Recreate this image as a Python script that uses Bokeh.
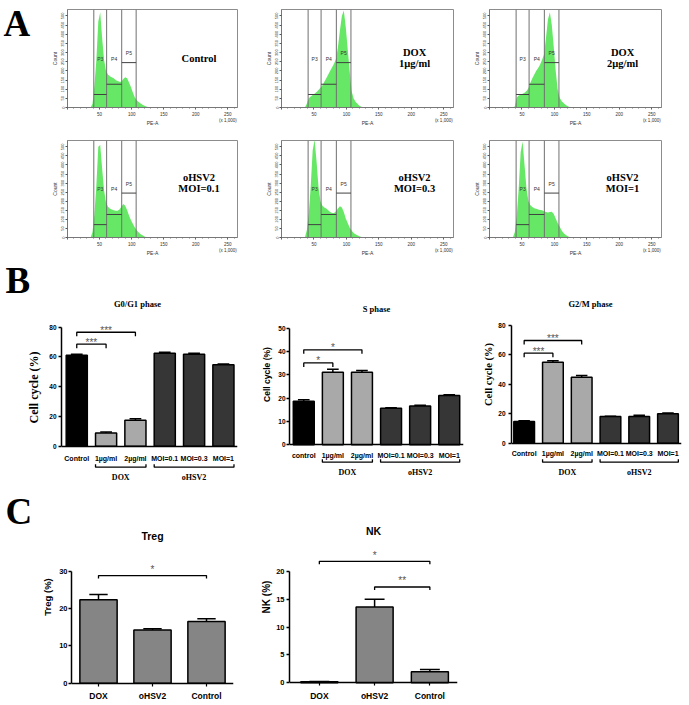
import math
from bokeh.plotting import figure
from bokeh.layouts import column, row
from bokeh.models import Range1d, FixedTicker, SingleIntervalTicker, Spacer
from bokeh.core.properties import value
from bokeh.embed import file_html
from bokeh.resources import INLINE

SANS = "Liberation Sans"
SERIF = "Liberation Serif"

# ---------------- Panel A: DNA-content histograms (count vs PE-A x1000) ----------------
HIST_X = [36, 39, 42, 45, 48, 51, 54, 57, 60, 63, 66, 69, 72, 75, 78, 81,
          84, 87, 90, 93, 96, 99, 102, 105, 108, 111, 114, 117, 120, 123, 126, 129]
COUNT_CONTROL = [0, 20, 120, 260, 470, 520, 380, 260, 200, 180, 170, 165, 160, 150, 145, 140,
                 140, 155, 165, 160, 135, 110, 80, 55, 40, 30, 22, 15, 10, 5, 2, 0]
COUNT_DOX1 = [0, 20, 50, 60, 68, 75, 85, 95, 108, 120, 140, 160, 180, 200, 220, 240,
              265, 330, 420, 500, 530, 440, 320, 200, 90, 50, 32, 20, 10, 4, 0, 0]
COUNT_DOX2 = [0, 5, 55, 65, 70, 75, 80, 90, 105, 135, 160, 180, 200, 215, 235, 260,
              290, 380, 480, 520, 450, 330, 200, 100, 55, 35, 25, 15, 8, 3, 0, 0]
COUNT_MOI01 = [0, 30, 130, 290, 500, 510, 380, 260, 195, 170, 160, 155, 150, 148, 148, 155,
               170, 185, 175, 150, 120, 95, 75, 55, 40, 28, 18, 12, 6, 2, 0, 0]
COUNT_MOI03 = [0, 40, 130, 280, 480, 540, 420, 280, 200, 175, 165, 160, 150, 140, 135, 135,
               145, 160, 172, 165, 140, 105, 80, 55, 38, 25, 18, 12, 7, 3, 0, 0]
COUNT_MOI1 = [0, 30, 120, 270, 470, 530, 400, 270, 200, 178, 168, 162, 158, 155, 152, 150,
              145, 140, 138, 140, 142, 130, 105, 80, 60, 40, 25, 15, 8, 3, 0, 0]
GATE_EDGES = [41, 61, 84.5, 107]
GATE_MARKS = [71, 127, 245]
GATE_NAMES = ["P3", "P4", "P5"]
SAMPLE_LABELS = ["Control", "DOX\n1µg/ml", "DOX\n2µg/ml",
                 "oHSV2\nMOI=0.1", "oHSV2\nMOI=0.3", "oHSV2\nMOI=1"]

# ---------------- Panel B: cell-cycle phases (%) ----------------
CC_CATS = ["Control", "1µg/ml", "2µg/ml", "MOI=0.1", "MOI=0.3", "MOI=1"]
S_CATS = ["control", "1µg/ml", "2µg/ml", "MOI=0.1", "MOI=0.3", "MOI=1"]
CC_GROUP = ["control", "DOX", "DOX", "oHSV2", "oHSV2", "oHSV2"]
G1_MEAN = [61.1, 8.9, 17.5, 62.5, 61.8, 54.8]
G1_SEM = [0.7, 0.6, 0.9, 0.7, 0.7, 0.4]
S_MEAN = [18.7, 31.1, 31.1, 15.7, 16.6, 21.1]
S_SEM = [0.6, 1.3, 0.8, 0.2, 0.4, 0.3]
G2_MEAN = [14.7, 55.1, 44.9, 18.1, 18.1, 20.0]
G2_SEM = [0.5, 0.9, 1.1, 0.3, 0.9, 0.6]
G1_SIG = [(0, 1, "***"), (0, 2, "***")]
S_SIG = [(0, 1, "*"), (0, 2, "*")]
G2_SIG = [(0, 1, "***"), (0, 2, "***")]

# ---------------- Panel C: immune cells (%) ----------------
C_CATS = ["DOX", "oHSV2", "Control"]
TREG_MEAN = [22.4, 14.3, 16.6]
TREG_SEM = [1.4, 0.3, 0.7]
NK_MEAN = [0.2, 13.6, 2.0]
NK_SEM = [0.05, 1.4, 0.4]
TREG_SIG = [(0, 2, "*")]
NK_SIG = [(0, 2, "*"), (1, 2, "**")]

GROUP_COLORS = {"control": "#000000", "DOX": "#a9a9a9", "oHSV2": "#363636"}
C_COLOR = "#858585"
GREEN = "#66e866"


def clean(p):
    p.outline_line_color = None
    p.grid.visible = False


def blank_fig(w, h):
    p = figure(width=w, height=h, x_range=Range1d(0, w), y_range=Range1d(0, h), title=None,
               x_axis_type=None, y_axis_type=None, output_backend="svg",
               toolbar_location=None, min_border=0, min_border_left=0, min_border_right=0,
               min_border_top=0, min_border_bottom=0)
    clean(p)
    return p


def add_letter(p, letter, x, y_center):
    p.text(x=[x], y=[y_center], text=[letter], text_font=value(SERIF), text_font_style="bold",
           text_font_size="37px", text_align="left", text_baseline="middle",
           text_color="black")


FW, FH = 172, 98
XMAX, YMAX = 265, 535


def hist_fig(counts, label, left, right, top, bottom, label_y):
    p = figure(width=left + FW + right, height=top + FH + bottom, title=None,
               x_range=Range1d(0, XMAX), y_range=Range1d(0, YMAX),
               output_backend="svg", toolbar_location=None,
               min_border_left=left, min_border_right=right,
               min_border_top=top, min_border_bottom=bottom)
    p.grid.visible = False
    p.outline_line_color = "#8c8c8c"
    p.varea(x=HIST_X, y1=0, y2=counts, fill_color=GREEN, fill_alpha=1)
    p.segment(x0=GATE_EDGES, y0=0, x1=GATE_EDGES, y1=YMAX, line_color="#707070", line_width=1)
    p.segment(x0=GATE_EDGES[:-1], y0=GATE_MARKS, x1=GATE_EDGES[1:], y1=GATE_MARKS,
              line_color="#404040", line_width=1)
    cx = [(a + b) / 2 for a, b in zip(GATE_EDGES[:-1], GATE_EDGES[1:])]
    p.text(x=cx, y=[267, 267, GATE_MARKS[2] + 50], text=GATE_NAMES, text_font=value(SANS),
           text_font_size="5px", text_align="center", text_baseline="middle", text_color="#333333")
    p.text(x=[205], y=[label_y], text=[label], text_font=value(SERIF), text_font_style="bold",
           text_font_size="10.5px", text_align="center", text_baseline="middle",
           text_line_height=1.0, text_color="black")
    xa = p.xaxis[0]
    xa.ticker = SingleIntervalTicker(interval=50, num_minor_ticks=5)
    xa.major_label_overrides = {0: "", 250: "250\n(x 1,000)"}
    xa.axis_label = "PE-A"
    xa.axis_label_text_font = SANS
    xa.axis_label_text_font_style = "normal"
    xa.axis_label_text_font_size = "5px"
    xa.axis_label_text_color = "#333333"
    xa.axis_label_standoff = -6
    xa.major_label_text_font = SANS
    xa.major_label_text_font_size = "4.5px"
    xa.major_label_text_color = "#333333"
    xa.major_label_standoff = 2
    xa.major_tick_out = 2
    xa.major_tick_in = 0
    xa.minor_tick_out = 1
    xa.minor_tick_in = 0
    xa.axis_line_color = "#777777"
    xa.major_tick_line_color = "#555555"
    xa.minor_tick_line_color = "#777777"
    ya = p.yaxis[0]
    ya.ticker = SingleIntervalTicker(interval=50, num_minor_ticks=0)
    ya.major_label_orientation = "vertical"
    ya.major_label_text_font = SANS
    ya.major_label_text_font_size = "4px"
    ya.major_label_text_color = "#333333"
    ya.major_label_standoff = 1
    ya.major_tick_out = 2
    ya.major_tick_in = 0
    ya.axis_line_color = "#777777"
    ya.major_tick_line_color = "#555555"
    ya.axis_label = "Count"
    ya.axis_label_text_font = SANS
    ya.axis_label_text_font_style = "normal"
    ya.axis_label_text_font_size = "5px"
    ya.axis_label_text_color = "#333333"
    ya.axis_label_standoff = 1
    return p


def bar_fig(cats, means, sems, colors, fw, left, right, fh, x_lo, x_hi, zero_top, ppu,
            yticks, ylab, ylab_font, ylab_size, ylab_standoff, ytick_size, ytick_standoff,
            xlab_size, xlab_standoff, xtick_out, bar_w, cap_w):
    lo = -(fh - zero_top) / ppu
    hi = zero_top / ppu
    p = figure(width=left + fw + right, height=fh, x_range=Range1d(x_lo, x_hi), title=None,
               y_range=Range1d(lo, hi), output_backend="svg", toolbar_location=None,
               min_border_left=left, min_border_right=right, min_border_top=0,
               min_border_bottom=0)
    clean(p)
    xs = list(range(len(cats)))
    tops = [m + s for m, s in zip(means, sems)]
    p.segment(x0=xs, y0=means, x1=xs, y1=tops, line_color="black", line_width=1.5)
    p.segment(x0=[x - cap_w / 2 for x in xs], y0=tops, x1=[x + cap_w / 2 for x in xs], y1=tops,
              line_color="black", line_width=1.5)
    p.vbar(x=xs, top=means, bottom=0, width=bar_w, fill_color=colors, line_color="black",
           line_width=1.5)
    xa = p.xaxis[0]
    xa.fixed_location = 0
    xa.ticker = FixedTicker(ticks=xs)
    xa.major_label_overrides = {i: c for i, c in enumerate(cats)}
    xa.axis_line_width = 1.5
    xa.major_tick_out = xtick_out
    xa.major_tick_in = 0
    xa.major_tick_line_width = 1.2
    xa.minor_tick_out = 0
    xa.minor_tick_in = 0
    xa.major_label_text_font = SANS
    xa.major_label_text_font_style = "bold"
    xa.major_label_text_font_size = xlab_size
    xa.major_label_text_color = "black"
    xa.major_label_standoff = xlab_standoff
    ya = p.yaxis[0]
    ya.ticker = FixedTicker(ticks=yticks)
    ya.bounds = (0, yticks[-1])
    ya.axis_line_width = 1.5
    ya.major_tick_out = 3
    ya.major_tick_in = 0
    ya.major_tick_line_width = 1.5
    ya.minor_tick_out = 0
    ya.minor_tick_in = 0
    ya.major_label_text_font = SANS
    ya.major_label_text_font_style = "bold"
    ya.major_label_text_font_size = ytick_size
    ya.major_label_text_color = "black"
    ya.major_label_standoff = ytick_standoff
    if ylab:
        ya.axis_label = ylab
        ya.axis_label_text_font = ylab_font
        ya.axis_label_text_font_style = "bold"
        ya.axis_label_text_font_size = ylab_size
        ya.axis_label_text_color = "black"
        ya.axis_label_standoff = ylab_standoff
    return p


def add_title(p, text, font, size, px_from_top, x_off=0):
    p.text(x=[(p.x_range.start + p.x_range.end) / 2], y=[p.y_range.end], text=[text],
           x_offset=x_off, y_offset=px_from_top, text_font=value(font), text_font_style="bold",
           text_font_size=size, text_align="center", text_baseline="middle", text_color="black")


def add_sig(p, sig, heights, ppu, drop_px, size, dy):
    for (i, j, lab), h in zip(sig, heights):
        d = drop_px / ppu
        p.line(x=[i, i, j, j], y=[h - d, h, h, h - d], line_color="black", line_width=1.3)
        p.text(x=[(i + j) / 2], y=[h], text=[lab], y_offset=dy, text_font=value(SANS),
               text_font_size=size, text_align="center", text_baseline="middle",
               text_color="#555555")


def add_groups(p, groups, ppu, line_px, label_px, half_w):
    runs = []
    for i, g in enumerate(groups):
        if g == "control":
            continue
        if runs and runs[-1][2] == g and runs[-1][1] == i - 1:
            runs[-1][1] = i
        else:
            runs.append([i, i, g])
    for i, j, g in runs:
        y = -line_px / ppu
        t = 3 / ppu
        a, b = i - half_w, j + half_w
        p.line(x=[a, a, b, b], y=[y + t, y, y, y + t], line_color="black", line_width=1.3)
        p.text(x=[(i + j) / 2], y=[-label_px / ppu], text=[g], text_font=value(SERIF),
               text_font_style="bold", text_font_size="8px", text_align="center",
               text_baseline="middle", text_color="black")


# ---------------- build panel A ----------------
letterA = blank_fig(48, 140)
add_letter(letterA, "A", 3, 120)
rowA1 = row(letterA,
            hist_fig(COUNT_CONTROL, SAMPLE_LABELS[0], 17, 16, 9, 33, 270),
            hist_fig(COUNT_DOX1, SAMPLE_LABELS[1], 28, 16, 9, 33, 270),
            hist_fig(COUNT_DOX2, SAMPLE_LABELS[2], 20, 28, 9, 33, 270))
rowA2 = row(Spacer(width=48, height=118),
            hist_fig(COUNT_MOI01, SAMPLE_LABELS[3], 17, 16, 0, 20, 298),
            hist_fig(COUNT_MOI03, SAMPLE_LABELS[4], 28, 16, 0, 20, 298),
            hist_fig(COUNT_MOI1, SAMPLE_LABELS[5], 20, 28, 0, 20, 298))

# ---------------- build panel B (row spans y 258..490) ----------------
HB = 232
cc_colors = [GROUP_COLORS[g] for g in CC_GROUP]
PPU_G1, PPU_S, PPU_G2 = 1.4875, 2.333, 1.471

sideB = blank_fig(45, HB)
add_letter(sideB, "B", 5, HB - 22)
sideB.text(x=[33], y=[HB - 129], text=["Cell cycle (%)"], angle=math.pi / 2,
           text_font=value(SERIF), text_font_style="bold", text_font_size="12px",
           text_align="center", text_baseline="middle", text_color="black")

g1 = bar_fig(CC_CATS, G1_MEAN, G1_SEM, cc_colors, 176, 16, 18, HB, -0.52, 5.48, 187.7, PPU_G1,
             [0, 20, 40, 60, 80], None, SERIF, "12px", 7, "6.5px", 2,
             "7px", 9, 0, 0.72, 0.4)
add_title(g1, "G0/G1 phase", SERIF, "8.5px", 45, -12)
add_sig(g1, G1_SIG, [68.6, 76.6], PPU_G1, 4, "10px", -2)
add_groups(g1, CC_GROUP, PPU_G1, 21, 31, 0.36)

s = bar_fig(S_CATS, S_MEAN, S_SEM, cc_colors, 174, 34, 17, HB, -0.49, 5.49, 186.3, PPU_S,
            [0, 10, 20, 30, 40, 50], "Cell cycle (%)", SANS, "8.5px", 3, "6.5px", 1,
            "7px", 7, 0, 0.72, 0.4)
add_title(s, "S phase", SERIF, "8.5px", 50)
add_sig(s, S_SIG, [35.1, 40.7], PPU_S, 4, "10px", -2)
add_groups(s, CC_GROUP, PPU_S, 17.4, 27.4, 0.36)

g2 = bar_fig(CC_CATS, G2_MEAN, G2_SEM, cc_colors, 172, 29, 8, HB, -0.44, 5.47, 184.7, PPU_G2,
             [0, 20, 40, 60, 80], "Cell cycle (%)", SERIF, "10.5px", 1, "6.5px", 3,
             "7px", 7, 0, 0.72, 0.4)
add_title(g2, "G2/M phase", SERIF, "8.5px", 45, -6)
add_sig(g2, G2_SIG, [61.2, 69.8], PPU_G2, 4, "10px", -2)
add_groups(g2, CC_GROUP, PPU_G2, 19, 29, 0.36)

rowB = row(sideB, g1, s, g2)

# ---------------- build panel C (row spans y 490..703) ----------------
PPU_T, PPU_N = 3.723, 5.57
c_colors = [C_COLOR] * len(C_CATS)
treg = bar_fig(C_CATS, TREG_MEAN, TREG_SEM, c_colors, 167, 27, 25, 213, -0.5, 2.5, 192.7, PPU_T,
               [0, 10, 20, 30], "Treg (%)", SANS, "9.5px", 3, "7.5px", 1,
               "8.5px", 5, 3, 0.69, 0.34)
add_title(treg, "Treg", SANS, "10.5px", 45)
add_sig(treg, TREG_SIG, [28.9], PPU_T, 3, "10px", -6)

nk = bar_fig(C_CATS, NK_MEAN, NK_SEM, c_colors, 170, 29, 232, 213, -0.54, 2.5, 192.3, PPU_N,
             [0, 5, 10, 15, 20], "NK (%)", SANS, "10px", 1, "7.5px", 2,
             "8.5px", 5, 3, 0.67, 0.36)
add_title(nk, "NK", SANS, "10.5px", 40)
add_sig(nk, NK_SIG, [21.8, 17.2], PPU_N, 3, "10px", -6)

letterC = blank_fig(39, 213)
add_letter(letterC, "C", 5, 192)
rowC = row(letterC, treg, nk)

layout = column(rowA1, rowA2, rowB, rowC)

open("out.html", "w").write(file_html(layout, INLINE, "Figure"))
